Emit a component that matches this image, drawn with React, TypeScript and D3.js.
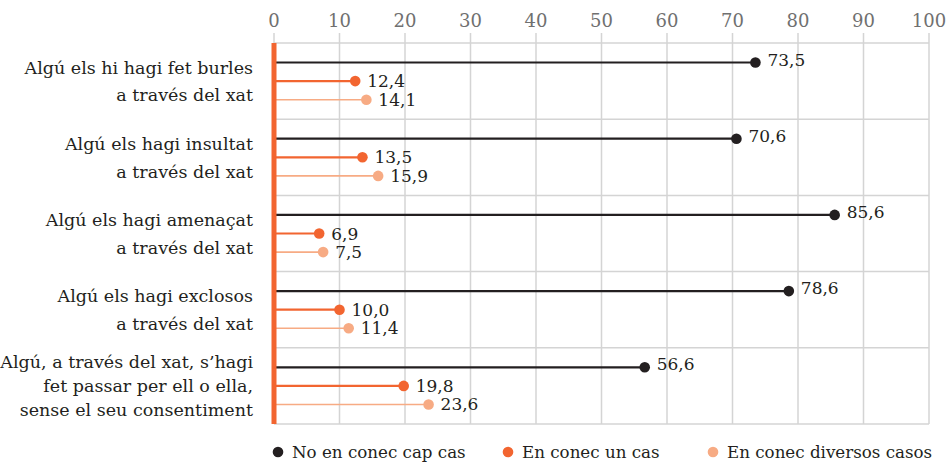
import React from "react";
import * as d3 from "d3";

const categories: string[][] = [
  ["Algú els hi hagi fet burles", "a través del xat"],
  ["Algú els hagi insultat", "a través del xat"],
  ["Algú els hagi amenaçat", "a través del xat"],
  ["Algú els hagi exclosos", "a través del xat"],
  ["Algú, a través del xat, s’hagi", "fet passar per ell o ella,", "sense el seu consentiment"],
];
const seriesNames = ["No en conec cap cas", "En conec un cas", "En conec diversos casos"];
const noneValues = [73.5, 70.6, 85.6, 78.6, 56.6];
const oneValues = [12.4, 13.5, 6.9, 10.0, 19.8];
const severalValues = [14.1, 15.9, 7.5, 11.4, 23.6];
const xTicks = [0, 10, 20, 30, 40, 50, 60, 70, 80, 90, 100];

const colors = ["#231f20", "#f26530", "#f7ab84"];
const strokeW = [2.2, 2.2, 1.6];
const labelDy = [-3, 0, 0];
const FONT = "'DejaVu Serif', serif";

export default function App() {
  const W = 947, H = 462;
  const x = d3.scaleLinear().domain([0, 100]).range([274, 929]);
  const y = d3.scaleBand<number>().domain(d3.range(categories.length)).range([43, 424]).padding(0);
  const inner = d3.scalePoint<number>().domain([0, 1, 2]).range([0, y.bandwidth()]).padding(1.05);
  const series = [noneValues, oneValues, severalValues];
  const fmt = (v: number) => v.toFixed(1).replace(".", ",");
  const top = 43, bottom = 424;

  return (
    <svg width={W} height={H} style={{ display: "block", position: "absolute", left: 0, top: 0 }} fontFamily={FONT}>
      <rect width={W} height={H} fill="#fff" />
      {xTicks.map((t) => (
        <line key={"g" + t} x1={x(t)} x2={x(t)} y1={33} y2={bottom} stroke="#d4d4d4" strokeWidth={1.5} />
      ))}
      {d3.range(categories.length + 1).map((i) => {
        const yy = i < categories.length ? (y(i) as number) : bottom;
        return <line key={"h" + i} x1={x(0)} x2={x(100)} y1={yy} y2={yy} stroke="#d4d4d4" strokeWidth={1.5} />;
      })}
      {xTicks.map((t) => (
        <text key={"t" + t} x={x(t)} y={27} textAnchor="middle" fontSize={18} fill="#707070">
          {t}
        </text>
      ))}
      {categories.map((lines, i) => {
        const cy = (y(i) as number) + y.bandwidth() / 2 + 1.5;
        const lh = lines.length > 2 ? 24 : 27.5;
        const start = cy - ((lines.length - 1) * lh) / 2;
        return (
          <text key={"c" + i} textAnchor="end" fontSize={17.5} fill="#231f20">
            {lines.map((l, j) => (
              <tspan key={j} x={253} y={start + j * lh + 5}>
                {l}
              </tspan>
            ))}
          </text>
        );
      })}
      {series.map((vals, s) =>
        vals.map((v, i) => {
          const yy = (y(i) as number) + (inner(s) as number);
          return (
            <g key={s + "-" + i}>
              <line x1={x(0)} x2={x(v)} y1={yy} y2={yy} stroke={colors[s]} strokeWidth={strokeW[s]} />
              <circle cx={x(v)} cy={yy} r={5.3} fill={colors[s]} />
              <text x={x(v) + 12} y={yy + labelDy[s] + 6} fontSize={17} fill="#231f20">
                {fmt(v)}
              </text>
            </g>
          );
        })
      )}
      <rect x={x(0) - 2.5} y={top} width={5} height={bottom - top} fill="#f26530" />
      {seriesNames.map((n, s) => {
        const lx = [278, 508, 713][s];
        return (
          <g key={"l" + s}>
            <circle cx={lx} cy={452} r={5.3} fill={colors[s]} />
            <text x={lx + 14} y={458} fontSize={16.7} fill="#231f20">
              {n}
            </text>
          </g>
        );
      })}
    </svg>
  );
}
